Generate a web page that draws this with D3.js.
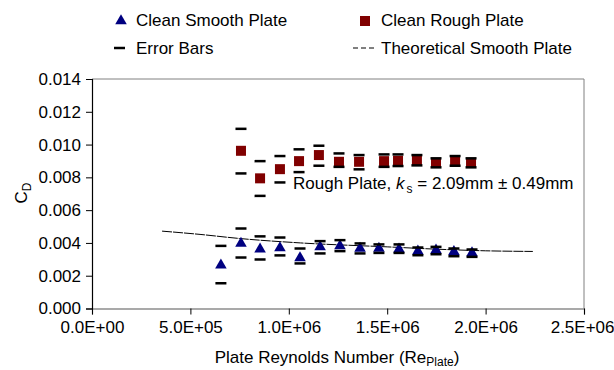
<!DOCTYPE html>
<html>
<head>
<meta charset="utf-8">
<script src="https://cdn.jsdelivr.net/npm/d3@7"></script>
<style>
body { margin: 0; background: #fff; }
text { font-family: "Liberation Sans", Arial, sans-serif; }
</style>
</head>
<body>
<div id="chart"></div>
<script>
var w = 614,
    h = 370;

// smooth plate data
var smoothRe = [6.55e5, 7.57e5, 8.54e5, 9.55e5, 1.057e6, 1.159e6, 1.26e6, 1.362e6, 1.458e6, 1.56e6, 1.656e6, 1.748e6, 1.839e6, 1.931e6];
var smoothCd = [0.00264, 0.00397, 0.00362, 0.00370, 0.00309, 0.00376, 0.00382, 0.00366, 0.00366, 0.00362, 0.00350, 0.00356, 0.00346, 0.00339];
var smoothHi = [0.00382, 0.00488, 0.00440, 0.00433, 0.00366, 0.00411, 0.00417, 0.00397, 0.00391, 0.00391, 0.00372, 0.00376, 0.00366, 0.00360];
var smoothLo = [0.00154, 0.00311, 0.00299, 0.00324, 0.00275, 0.00336, 0.00350, 0.00336, 0.00339, 0.00339, 0.00325, 0.00331, 0.00319, 0.00315];

// rough plate data
var roughRe = [7.57e5, 8.54e5, 9.55e5, 1.052e6, 1.153e6, 1.255e6, 1.357e6, 1.484e6, 1.555e6, 1.651e6, 1.748e6, 1.845e6, 1.926e6];
var roughCd = [0.00962, 0.00794, 0.00850, 0.00899, 0.00936, 0.00895, 0.00895, 0.00899, 0.00901, 0.00901, 0.00889, 0.00895, 0.00889];
var roughHi = [0.01096, 0.00899, 0.00930, 0.00971, 0.00993, 0.00946, 0.00936, 0.00940, 0.00940, 0.00936, 0.00916, 0.00930, 0.00916];
var roughLo = [0.00824, 0.00687, 0.00769, 0.00832, 0.00871, 0.00864, 0.00849, 0.00864, 0.00869, 0.00873, 0.00861, 0.00871, 0.00861];

// theoretical smooth plate
var theoryRe = [3.56e5, 5.49e5, 7.5e5, 1.06e6, 1.5e6, 1.75e6, 2.0e6, 2.24e6];
var theoryCd = [0.00472, 0.00452, 0.00427, 0.00400, 0.00376, 0.00362, 0.00352, 0.00348];

var xTicks = [0, 5e5, 1e6, 1.5e6, 2e6, 2.5e6];
var yTicks = [0, 0.002, 0.004, 0.006, 0.008, 0.010, 0.012, 0.014];

var pLeft = 92, pRight = 584, pTop = 79, pBottom = 308.5;
var fs = 17;

var svg = d3.select("#chart")
    .append("svg")
    .attr("width", w)
    .attr("height", h);

var x = d3.scaleLinear().domain([0, 2.5e6]).range([pLeft, pRight]);
var y = d3.scaleLinear().domain([0, 0.014]).range([pBottom, pTop]);

function sci(v) {
    if (v === 0) return "0.0E+00";
    var s = d3.format(".1e")(v).split("e");
    var ex = +s[1];
    return s[0] + "E" + (ex < 0 ? "-" : "+") + d3.format("02d")(Math.abs(ex));
}

// gray frame top and right
svg.append("path")
    .attr("d", "M" + pLeft + "," + pTop + "H" + pRight + "V" + pBottom)
    .attr("fill", "none")
    .attr("stroke", "#808080")
    .attr("stroke-width", 1);

// axes
var xAxis = svg.append("g")
    .attr("transform", "translate(0," + pBottom + ")")
    .call(d3.axisBottom(x).tickValues(xTicks).tickFormat(sci).tickSizeOuter(0).tickSize(6).tickPadding(6));
var yAxis = svg.append("g")
    .attr("transform", "translate(" + pLeft + ",0)")
    .call(d3.axisLeft(y).tickValues(yTicks).tickFormat(d3.format(".3f")).tickSizeOuter(0).tickSize(6).tickPadding(5));

[xAxis, yAxis].forEach(function(g) {
    g.selectAll(".domain").attr("stroke", "#000").attr("stroke-width", 1.2);
    g.selectAll(".tick line").attr("stroke", "#000");
    g.selectAll(".tick text").attr("font-size", fs + "px").attr("fill", "#000")
        .style("font-family", "'Liberation Sans', Arial, sans-serif");
});
xAxis.select(".domain").attr("stroke", "#555");
// last label sits against the right edge
xAxis.selectAll(".tick text").filter(function(d) { return d === 2.5e6; })
    .attr("text-anchor", "end").attr("x", 30);

// theory line
var line = d3.line()
    .x(function(d, i) { return x(theoryRe[i]); })
    .y(function(d, i) { return y(theoryCd[i]); })
    .curve(d3.curveMonotoneX);
svg.append("path")
    .datum(theoryCd)
    .attr("d", line)
    .attr("fill", "none")
    .attr("stroke", "#000")
    .attr("stroke-width", 1)
    .attr("stroke-dasharray", "10,1");

var tri = d3.symbol().type(d3.symbolTriangle).size(58);

// smooth markers
svg.selectAll(".smooth")
    .data(smoothCd)
    .enter()
    .append("path")
    .attr("class", "smooth")
    .attr("d", tri)
    .attr("transform", function(d, i) { return "translate(" + x(smoothRe[i]) + "," + y(d) + ")"; })
    .attr("fill", "#000080");

// rough markers
svg.selectAll(".rough")
    .data(roughCd)
    .enter()
    .append("rect")
    .attr("class", "rough")
    .attr("x", function(d, i) { return x(roughRe[i]) - 5; })
    .attr("y", function(d) { return y(d) - 5; })
    .attr("width", 10)
    .attr("height", 10)
    .attr("fill", "#800000");

// error bars
function bars(re, vals, cls) {
    svg.selectAll("." + cls)
        .data(vals)
        .enter()
        .append("line")
        .attr("class", cls)
        .attr("x1", function(d, i) { return x(re[i]) - 5.5; })
        .attr("x2", function(d, i) { return x(re[i]) + 5.5; })
        .attr("y1", function(d) { return y(d); })
        .attr("y2", function(d) { return y(d); })
        .attr("stroke", "#000")
        .attr("stroke-width", 2.5);
}
bars(smoothRe, smoothHi, "sh");
bars(smoothRe, smoothLo, "sl");
bars(roughRe, roughHi, "rh");
bars(roughRe, roughLo, "rl");

// annotation
var ann = svg.append("text")
    .attr("x", 293)
    .attr("y", 189)
    .attr("font-size", fs + "px");
ann.append("tspan").text("Rough Plate, ");
ann.append("tspan").attr("font-style", "italic").text("k");
ann.append("tspan").attr("font-size", "12px").attr("dy", 4).attr("dx", 2).text("s");
ann.append("tspan").attr("dy", -4).text("  = 2.09mm \u00b1 0.49mm");

// axis titles
var xt = svg.append("text")
    .attr("x", 337)
    .attr("y", 363)
    .attr("text-anchor", "middle")
    .attr("font-size", fs + "px");
xt.append("tspan").text("Plate Reynolds Number (Re");
xt.append("tspan").attr("font-size", "12px").attr("dy", 3).text("Plate");
xt.append("tspan").attr("dy", -3).text(")");

var yt = svg.append("text")
    .attr("transform", "translate(27,193) rotate(-90)")
    .attr("text-anchor", "middle")
    .attr("font-size", fs + "px");
yt.append("tspan").text("C");
yt.append("tspan").attr("font-size", "12px").attr("dy", 4).text("D");

// legend
var lg = svg.append("g");
lg.append("path").attr("d", tri).attr("fill", "#000080")
    .attr("transform", "translate(121,21)");
lg.append("text").attr("x", 136).attr("y", 26).attr("font-size", fs + "px").text("Clean Smooth Plate");
lg.append("rect").attr("x", 360).attr("y", 16).attr("width", 10).attr("height", 10).attr("fill", "#800000");
lg.append("text").attr("x", 381).attr("y", 26).attr("font-size", fs + "px").text("Clean Rough Plate");
lg.append("line").attr("x1", 114).attr("x2", 125).attr("y1", 48).attr("y2", 48)
    .attr("stroke", "#000").attr("stroke-width", 2.5);
lg.append("text").attr("x", 136).attr("y", 54).attr("font-size", fs + "px").text("Error Bars");
lg.append("line").attr("x1", 353).attr("x2", 377).attr("y1", 48).attr("y2", 48)
    .attr("stroke", "#000").attr("stroke-width", 1).attr("stroke-dasharray", "5,3");
lg.append("text").attr("x", 381).attr("y", 54).attr("font-size", fs + "px").text("Theoretical Smooth Plate");
</script>
</body>
</html>
